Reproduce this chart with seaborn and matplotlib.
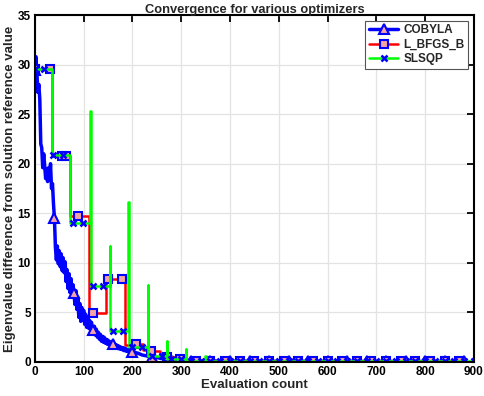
import numpy as np
import pandas as pd
import matplotlib
matplotlib.use("Agg")
import matplotlib.pyplot as plt
import seaborn as sns

# COBYLA: one value per evaluation (thinned)
cobyla_evals = [0, 2, 4, 6, 8, 10, 12, 14, 16, 18, 20, 22, 24, 26, 28, 30, 32, 34, 36, 38,
                40, 42, 44, 46, 48, 50, 52, 54, 56, 58, 60, 62, 64, 66, 68, 70, 72, 74, 76, 78,
                80, 82, 84, 86, 88, 90, 92, 94, 96, 98, 100, 102, 104, 106, 108, 110, 112, 114, 116, 118,
                120, 122, 124, 126, 128, 130, 132, 134, 136, 138, 140, 142, 144, 146, 148, 150, 152, 154, 156, 158,
                160, 162, 164, 166, 168, 170, 172, 174, 176, 178, 180, 182, 184, 186, 188, 190, 192, 194, 196, 198,
                200, 210, 220, 230, 240, 250, 260, 270, 280, 290, 300,
                320, 360, 400, 440, 480, 520, 560, 600, 640, 680, 720, 760, 800, 840, 880]
cobyla_values = [29.5, 30.8, 29.2, 27.2, 28.0, 26.5, 22.0, 21.6, 19.6, 21.0, 19.8, 18.5, 19.5, 18.2, 19.6, 18.4, 20.0, 17.5, 18.0, 16.0,
                 14.5, 11.6, 10.3, 11.7, 9.9, 11.2, 9.6, 10.9, 9.2, 10.5, 9.0, 10.1, 8.1, 9.3, 7.4, 8.9, 7.0, 8.4, 6.6, 7.8,
                 7.0, 5.8, 7.2, 5.3, 6.5, 4.5, 5.9, 4.1, 5.5, 4.2, 5.2, 3.8, 4.8, 3.5, 4.5, 3.4, 4.2, 3.2, 4.0, 2.9,
                 3.2, 3.6, 2.7, 3.3, 2.5, 3.0, 2.3, 2.8, 2.1, 2.6, 2.0, 2.5, 1.9, 2.3, 1.8, 2.2, 1.75, 2.05, 1.65, 1.95,
                 1.8, 1.55, 1.8, 1.45, 1.7, 1.35, 1.6, 1.3, 1.5, 1.25, 1.45, 1.15, 1.4, 1.1, 1.3, 1.05, 1.25, 1.0, 1.2, 0.95,
                 1.0, 0.9, 0.7, 0.6, 0.5, 0.45, 0.35, 0.3, 0.2, 0.15, 0.12,
                 0.1, 0.1, 0.08, 0.08, 0.07, 0.07, 0.06, 0.06, 0.06, 0.05, 0.05, 0.05, 0.05, 0.05, 0.05]

# L_BFGS_B: stepwise best value
lbfgsb_evals = [0, 30, 35, 56, 64, 72, 88, 110, 119, 146, 149, 178, 184, 208, 221, 239, 256, 270, 285, 298,
                310, 330, 360, 390, 420, 450, 480, 510, 540, 570, 600, 630, 660, 690, 720, 750, 780, 810, 840, 870]
lbfgsb_values = [29.6, 29.6, 20.8, 20.8, 20.8, 14.7, 14.7, 4.9, 4.9, 8.4, 8.4, 8.4, 1.7, 1.8, 1.2, 1.15, 0.7, 0.5, 0.3, 0.3,
                 0.15, 0.12, 0.1, 0.1, 0.08, 0.08, 0.07, 0.07, 0.06, 0.06, 0.06, 0.05, 0.05, 0.05, 0.05, 0.05, 0.05, 0.05, 0.05, 0.05]
lbfgsb_marker_evals = [0, 30, 56, 64, 88, 119, 149, 178, 208, 239, 270, 298, 330, 360, 390, 420, 450, 480,
                       510, 540, 570, 600, 630, 660, 690, 720, 750, 780, 810, 840, 870]

# SLSQP: stepwise with line-search spikes
slsqp_evals = [0, 18, 35, 38, 58, 72, 78, 99, 113, 114, 119, 139, 153, 154, 160, 180, 191, 192, 200, 220,
               231, 232, 240, 260, 270, 271, 280, 300, 309, 310, 320, 340, 349, 350,
               360, 380, 400, 420, 440, 460, 480, 500, 520, 540, 560, 580, 600, 620, 640, 660,
               680, 700, 720, 740, 760, 780, 800, 820, 840, 860, 880, 900]
slsqp_values = [29.6, 29.6, 20.9, 20.9, 20.9, 14.0, 14.0, 14.0, 25.3, 7.65, 7.65, 7.65, 11.7, 3.1, 3.1, 3.1, 16.1, 1.5, 1.5, 1.5,
                7.8, 0.6, 0.6, 0.6, 2.1, 0.25, 0.25, 0.25, 1.3, 0.12, 0.12, 0.12, 0.6, 0.08,
                0.08, 0.07, 0.07, 0.07, 0.06, 0.06, 0.06, 0.06, 0.05, 0.05, 0.05, 0.05, 0.05, 0.05, 0.05, 0.05,
                0.05, 0.05, 0.05, 0.05, 0.05, 0.05, 0.05, 0.05, 0.05, 0.05, 0.05, 0.05]
slsqp_marker_evals = [0, 18, 38, 58, 78, 99, 119, 139, 160, 180, 200, 220, 240, 260, 280, 300, 320, 340,
                      360, 380, 400, 420, 440, 460, 480, 500, 520, 540, 560, 580, 600, 620, 640, 660,
                      680, 700, 720, 740, 760, 780, 800, 820, 840, 860, 880, 900]

x_ticks = [0, 100, 200, 300, 400, 500, 600, 700, 800, 900]
y_ticks = [0, 5, 10, 15, 20, 25, 30, 35]

PINK = "#f4a4a4"


def marker_idx(evals, marked):
    return [i for i, e in enumerate(evals) if e in marked]


sns.set_style("whitegrid")
plt.rcParams["font.family"] = ["Liberation Sans", "DejaVu Sans"]
plt.rcParams["font.weight"] = "bold"
plt.rcParams["axes.labelweight"] = "bold"
plt.rcParams["axes.titleweight"] = "bold"

fig = plt.figure(figsize=(4.85, 3.96), dpi=100)
ax = fig.add_axes([0.072, 0.086, 0.905, 0.876])

sns.lineplot(x=cobyla_evals, y=cobyla_values, estimator=None, sort=False, ax=ax,
             color="#0000ff", lw=2.5, marker="^", markersize=6.5,
             markerfacecolor=PINK, markeredgecolor="#0000ff", markeredgewidth=1.5,
             markevery=[i for i, e in enumerate(cobyla_evals) if e % 40 == 0],
             label="COBYLA")
sns.lineplot(x=lbfgsb_evals, y=lbfgsb_values, estimator=None, sort=False, ax=ax,
             color="#ff0000", lw=1.8, drawstyle="steps-post", marker="s", markersize=6,
             markerfacecolor=PINK, markeredgecolor="#0000ff", markeredgewidth=1.5,
             markevery=marker_idx(lbfgsb_evals, lbfgsb_marker_evals),
             label="L_BFGS_B")
sns.lineplot(x=slsqp_evals, y=slsqp_values, estimator=None, sort=False, ax=ax,
             color="#00ff00", lw=1.8, drawstyle="steps-post", marker="x", markersize=4.5,
             markeredgecolor="#0000ff", markeredgewidth=1.8,
             markevery=marker_idx(slsqp_evals, slsqp_marker_evals),
             label="SLSQP")

ax.set_xlim(0, 900)
ax.set_ylim(0, 35)
ax.set_xticks(x_ticks)
ax.set_yticks(y_ticks)
ax.grid(True, color="#e3e3e3", lw=0.9)
ax.tick_params(direction="in", top=True, right=True, length=5, width=1.3,
               labelsize=8.5, colors="black", pad=3)
for s in ax.spines.values():
    s.set_color("black")
    s.set_linewidth(1.5)

ax.set_title("Convergence for various optimizers", fontsize=9.3, pad=1.5)
ax.set_xlabel("Evaluation count", fontsize=9.5, labelpad=1)
ax.set_ylabel("Eigenvalue difference from solution reference value", fontsize=9.5, labelpad=1)

leg = ax.legend(loc="upper right", fontsize=8.5, frameon=True, fancybox=False,
                edgecolor="#555555", framealpha=1, handlelength=2.5,
                borderpad=0.3, labelspacing=0.2, handletextpad=0.4,
                borderaxespad=0.5)
leg.get_frame().set_linewidth(0.8)

fig.savefig("out.png", dpi=100)
